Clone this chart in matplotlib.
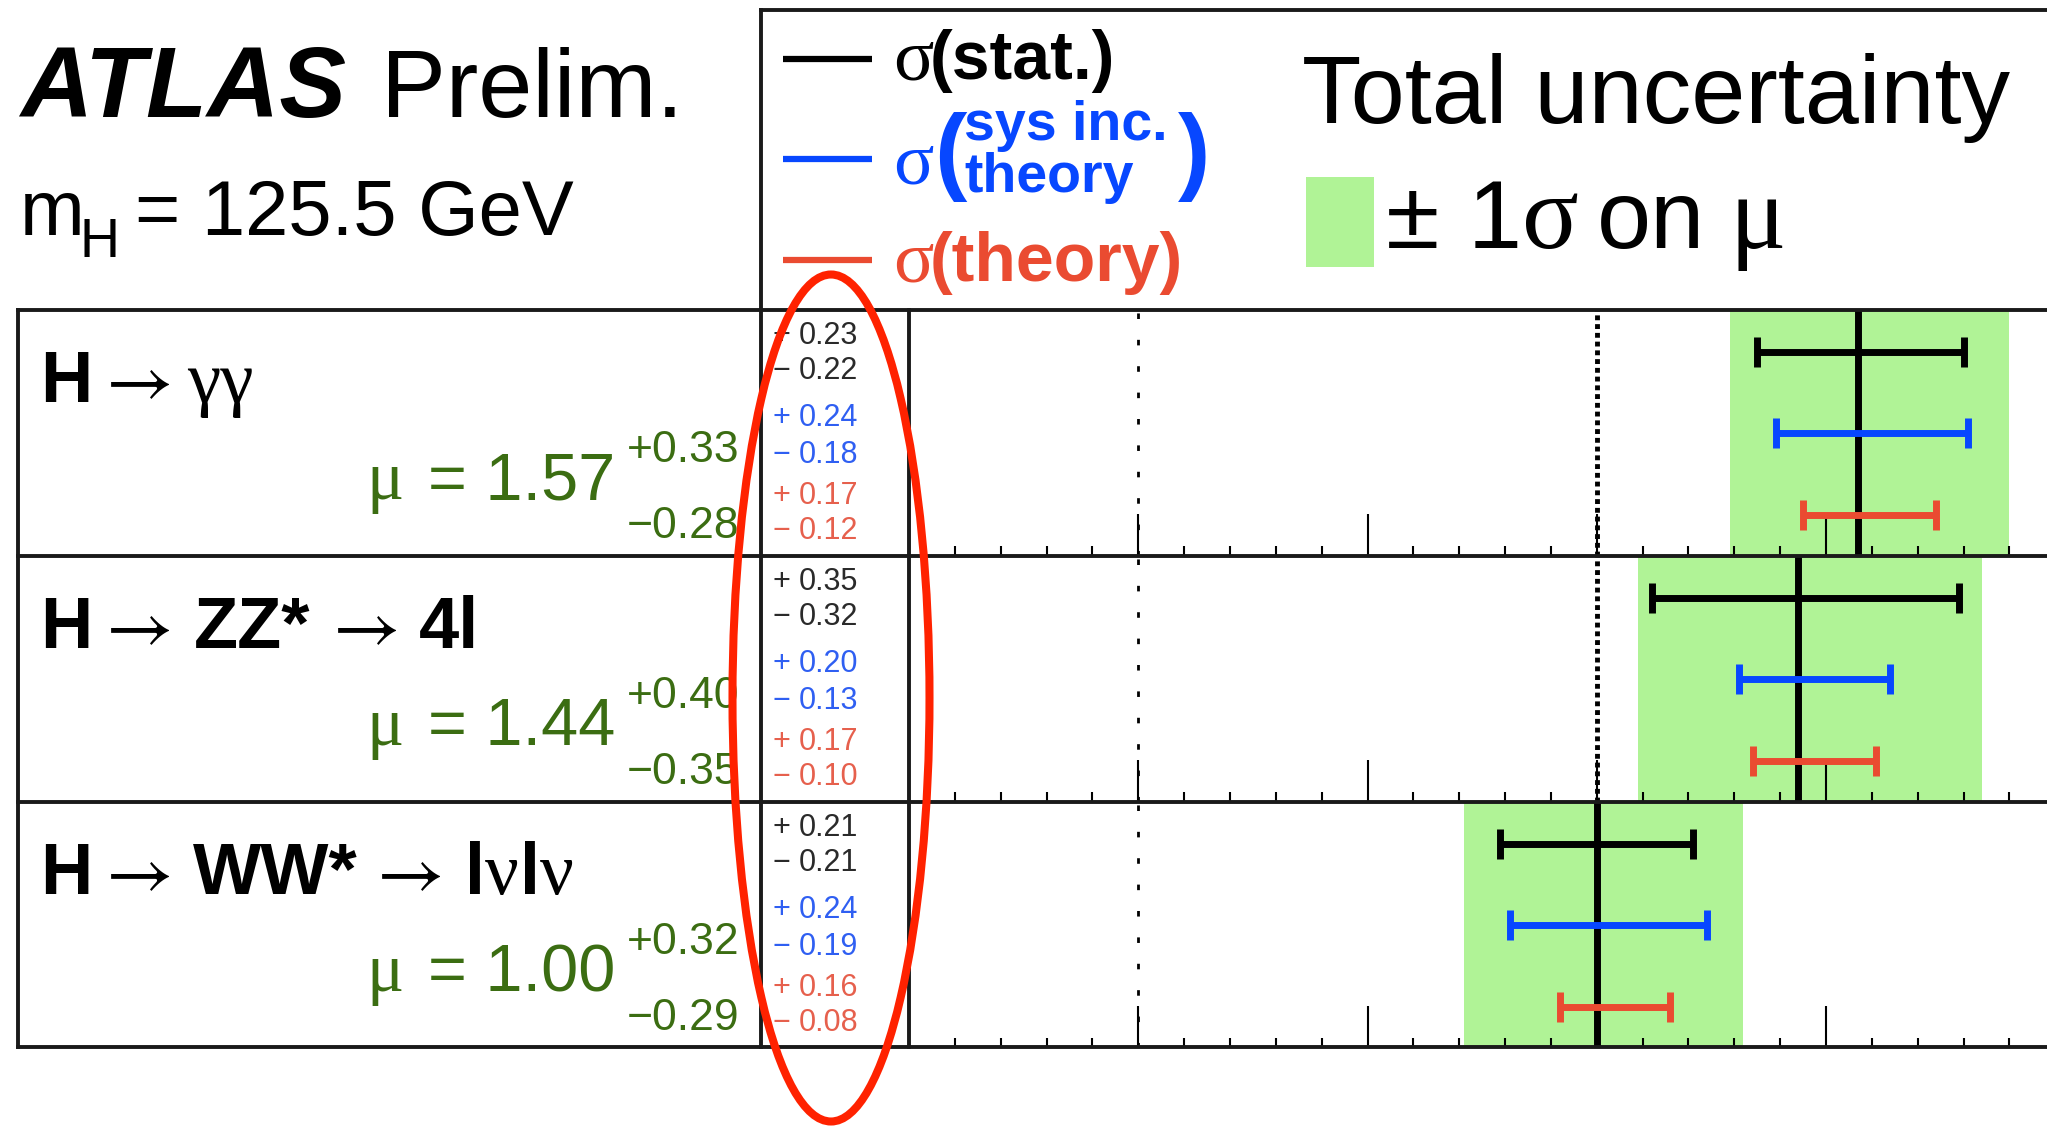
import matplotlib.pyplot as plt
from matplotlib.patches import Ellipse, Rectangle
from matplotlib.ticker import MultipleLocator

SANS = ['Liberation Sans', 'DejaVu Sans']
SERIF = ['Liberation Serif', 'DejaVu Serif']
ARROW = ['STIXGeneral', 'DejaVu Sans']
plt.rcParams['font.family'] = SANS

# signal strength per channel with total and split uncertainties
mu = [1.57, 1.44, 1.00]
tot_up = [0.33, 0.40, 0.32]
tot_dn = [0.28, 0.35, 0.29]
stat_up = [0.23, 0.35, 0.21]
stat_dn = [0.22, 0.32, 0.21]
sys_up = [0.24, 0.20, 0.24]
sys_dn = [0.18, 0.13, 0.19]
th_up = [0.17, 0.17, 0.16]
th_dn = [0.12, 0.10, 0.08]

# channel labels as (text, style, x) pieces: b = bold, a = arrow, g = greek
labels = [
    [('H', 'b', 40), ('→', 'a', 106), ('γγ', 'g', 187)],
    [('H', 'b', 40), ('→', 'a', 106), ('ZZ*', 'b', 194), ('→', 'a', 333), ('4l', 'b', 419)],
    [('H', 'b', 40), ('→', 'a', 106), ('WW*', 'b', 193), ('→', 'a', 377),
     ('l', 'b', 465), ('ν', 'g', 485), ('l', 'b', 520), ('ν', 'g', 540)],
]

BAND = '#b0f396'
BLUE = '#0747ff'
RED = '#ea4b31'
GREEN = '#3b6d12'
NUM_COLORS = ['#2a2a2a', '#2f5ff2', '#e6604d']
FRAME = '#1a1a1a'

W, H = 2047, 1127
fig = plt.figure(figsize=(W / 100, H / 100), dpi=100)

row_top = [310, 556, 802]
row_h = 246
x_plot = 909
px_per_mu = 458.5
bar_y = [0.83, 0.50, 0.165]

# one strip of axes per channel
for i, top in enumerate(row_top):
    ax = fig.add_axes([x_plot / W, 1 - (top + row_h) / H, (W - x_plot) / W, row_h / H])
    ax.set_xlim(-0.5, -0.5 + (W - x_plot) / px_per_mu)
    ax.set_ylim(0, 1)
    ax.patch.set_visible(False)
    for s in ax.spines.values():
        s.set_visible(False)
    ax.xaxis.set_major_locator(MultipleLocator(0.5))
    ax.xaxis.set_minor_locator(MultipleLocator(0.1))
    ax.tick_params(axis='x', which='both', direction='in', bottom=True, top=False,
                   labelbottom=False, color='k', width=1.5)
    ax.tick_params(axis='x', which='major', length=30)
    ax.tick_params(axis='x', which='minor', length=7.5)
    ax.set_yticks([])

    ax.axvspan(mu[i] - tot_dn[i], mu[i] + tot_up[i], color=BAND, lw=0, zorder=0)
    ax.axvline(0, color='k', lw=2, ls=(0, (2, 7.5)), zorder=1)
    ax.axvline(1, color='k', lw=3.5, ls=(0, (1, 0.8)), zorder=1)
    ax.axvline(mu[i], color='k', lw=5, zorder=3)

    bars = [(stat_up, stat_dn, 'k'), (sys_up, sys_dn, BLUE), (th_up, th_dn, RED)]
    for y, (up, dn, c) in zip(bar_y, bars):
        ax.errorbar(mu[i], y, xerr=[[dn[i]], [up[i]]], fmt='none', ecolor=c,
                    elinewidth=5, capsize=10.8, capthick=5, zorder=4)

# overlay in pixel units for frame and text
ov = fig.add_axes([0, 0, 1, 1])
ov.set_xlim(0, W)
ov.set_ylim(H, 0)
ov.axis('off')


def txt(x, y, s, size, color='k', weight='normal', style='normal', family=SANS, ha='left'):
    ov.text(x, y, s, fontsize=size, color=color, fontweight=weight, fontstyle=style,
            family=family, ha=ha, va='baseline')


def seg(x0, y0, x1, y1):
    ov.plot([x0, x1], [y0, y1], color=FRAME, lw=2.8, solid_capstyle='projecting', clip_on=False)


seg(761, 10, W, 10)
seg(761, 10, 761, 1047)
for y in row_top + [1047]:
    seg(18, y, W, y)
seg(18, 310, 18, 1047)
seg(909, 310, 909, 1047)

# header
txt(20, 117, 'ATLAS', 72, weight='bold', style='italic')
txt(381, 117, 'Prelim.', 70)
txt(20, 235, 'm', 56)
txt(80, 257, 'H', 40)
txt(135, 235, '= 125.5 GeV', 56)

# legend
ov.plot([783, 872], [59, 59], color='k', lw=4.5, solid_capstyle='butt')
txt(893, 79, 'σ', 54, family=SERIF)
txt(930, 79, '(stat.)', 49, weight='bold')

ov.plot([783, 872], [159, 159], color=BLUE, lw=4.5, solid_capstyle='butt')
txt(893, 183, 'σ', 54, color=BLUE, family=SERIF)
txt(934, 182, '(', 70, color=BLUE, weight='bold')
txt(964, 140, 'sys inc.', 40, color=BLUE, weight='bold')
txt(964, 192, 'theory', 40, color=BLUE, weight='bold')
txt(1178, 182, ')', 70, color=BLUE, weight='bold')

ov.plot([783, 872], [260, 260], color=RED, lw=4.5, solid_capstyle='butt')
txt(893, 281, 'σ', 54, color=RED, family=SERIF)
txt(930, 281, '(theory)', 49, color=RED, weight='bold')

txt(1302, 123, 'Total uncertainty', 70)
ov.add_patch(Rectangle((1306, 177), 68, 90, color=BAND, lw=0))
txt(1386, 248, '±', 70)
txt(1468, 248, '1', 70)
txt(1522, 248, 'σ', 76, family=SERIF)
txt(1597, 248, 'on', 70)
txt(1729, 248, 'μ', 76, family=SERIF)

# channel rows
styles = {'b': dict(size=52, weight='bold'), 'a': dict(size=53, family=ARROW),
          'g': dict(size=54, family=SERIF)}
for i, top in enumerate(row_top):
    for s, st, x in labels[i]:
        txt(x, top + 92, s, **styles[st])

    txt(366, top + 189, 'μ', 50, color=GREEN, family=SERIF)
    txt(428, top + 189, f'= {mu[i]:.2f}', 48, color=GREEN)
    txt(627, top + 152, f'+{tot_up[i]:.2f}', 32, color=GREEN)
    txt(627, top + 228, f'−{tot_dn[i]:.2f}', 32, color=GREEN)

    pairs = [(stat_up, stat_dn), (sys_up, sys_dn), (th_up, th_dn)]
    offsets = [(34, 69), (116, 153), (194, 229)]
    for (up, dn), (y1, y2), c in zip(pairs, offsets, NUM_COLORS):
        txt(772, top + y1, '+', 22, color=c)
        txt(858, top + y1, f'{up[i]:.2f}', 22, color=c, ha='right')
        txt(772, top + y2, '−', 22, color=c)
        txt(858, top + y2, f'{dn[i]:.2f}', 22, color=c, ha='right')

ov.add_patch(Ellipse((831, 698), 197, 847, fill=False, edgecolor='#ff2200', lw=5.8, zorder=10))

fig.savefig('out.png', dpi=100)
